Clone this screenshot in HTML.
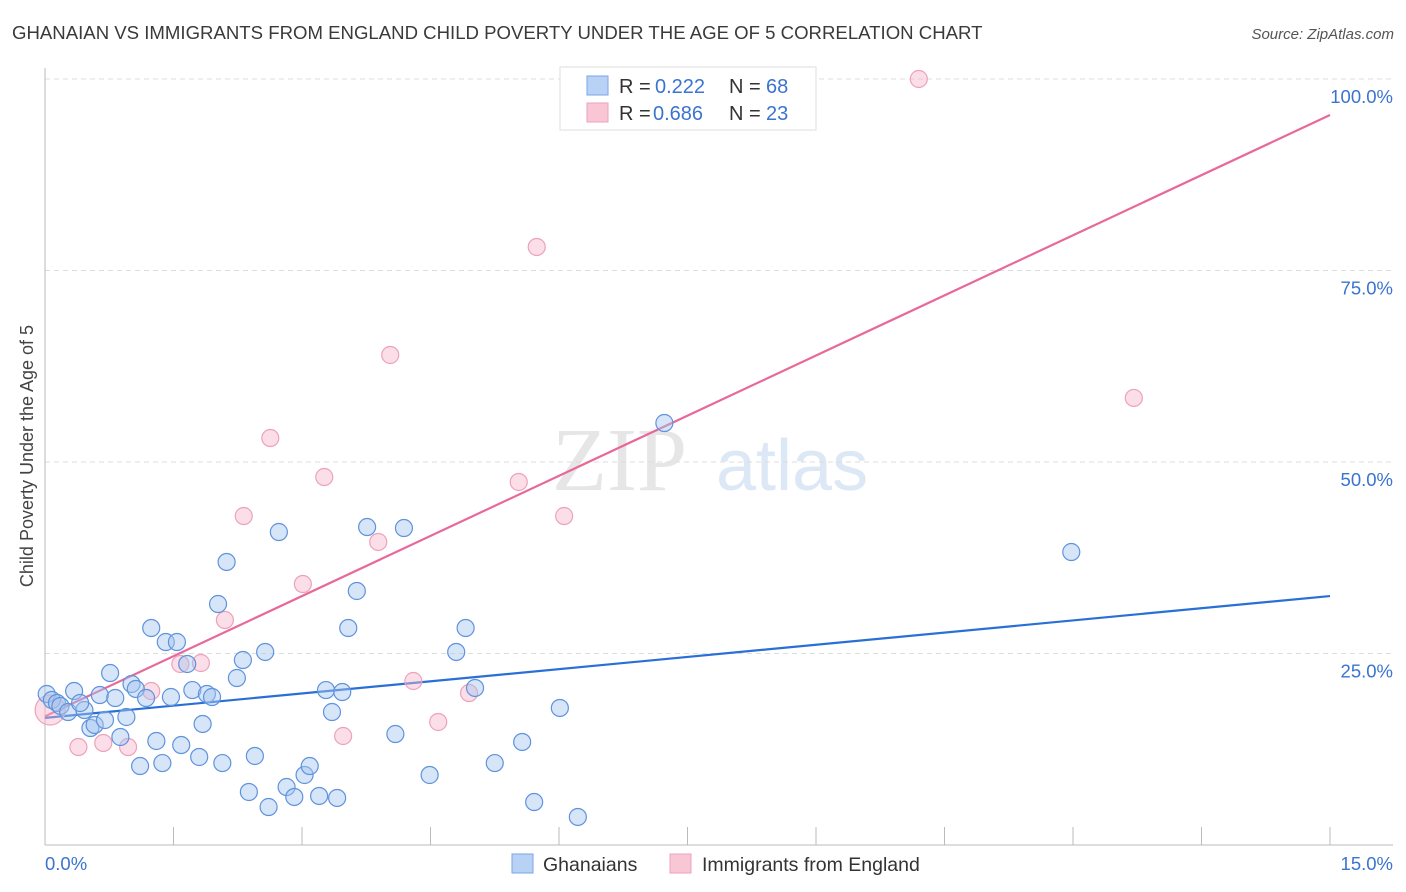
<!DOCTYPE html>
<html><head><meta charset="utf-8"><style>
body{margin:0;background:#fff;font-family:"Liberation Sans",sans-serif;}
svg{display:block}
</style></head><body>
<svg id="chart" width="1406" height="892" xmlns="http://www.w3.org/2000/svg">
<text x="12" y="39" font-size="18.6" fill="#3a3a3a">GHANAIAN VS IMMIGRANTS FROM ENGLAND CHILD POVERTY UNDER THE AGE OF 5 CORRELATION CHART</text>
<text x="1394" y="39" font-size="15" fill="#555" font-style="italic" text-anchor="end">Source: ZipAtlas.com</text>
<g>
<text x="552" y="490" font-size="90" font-family="Liberation Serif,serif" fill="#e6e6e6">ZIP</text>
<text x="716" y="490" font-size="72" fill="#dde8f6">atlas</text>
</g>
<text transform="translate(33,456) rotate(-90)" font-size="18" fill="#444" text-anchor="middle">Child Poverty Under the Age of 5</text>
<g id="grid"></g>
<g id="lines"></g>
<g id="points"></g>
<g font-size="20">
<rect x="560" y="67" width="256" height="63" fill="#fff" stroke="#ddd"/>
<rect x="587" y="76" width="21" height="19" fill="#b8d2f6" stroke="#7aa6e4"/>
<rect x="587" y="103" width="21" height="19" fill="#f9c6d6" stroke="#eda2ba"/>
<text x="619" y="93" fill="#333">R =</text><text x="655" y="93" fill="#3a74d0">0.222</text>
<text x="729" y="93" fill="#333">N =</text><text x="766" y="93" fill="#3a74d0">68</text>
<text x="619" y="120" fill="#333">R =</text><text x="653" y="120" fill="#3a74d0">0.686</text>
<text x="729" y="120" fill="#333">N =</text><text x="766" y="120" fill="#3a74d0">23</text>
</g>
<g>
<rect x="512" y="854" width="21" height="19" fill="#b8d2f6" stroke="#7aa6e4"/>
<text x="543" y="871" font-size="19.5" fill="#333">Ghanaians</text>
<rect x="670" y="854" width="21" height="19" fill="#f9c6d6" stroke="#eda2ba"/>
<text x="702" y="871" font-size="19.5" fill="#333">Immigrants from England</text>
</g>
</svg>
<script>
const yTicks=[25,50,75,100];
const yTickLabels=["25.0%","50.0%","75.0%","100.0%"];
const xEndLabels=["0.0%","15.0%"];
const blueX=[0.02,0.08,0.14,0.18,0.27,0.34,0.46,0.41,0.53,0.58,0.64,0.70,0.76,0.82,0.88,0.95,1.01,1.06,1.11,1.18,1.24,1.30,1.37,1.41,1.47,1.54,1.59,1.66,1.72,1.80,1.84,1.89,1.95,2.02,2.07,2.12,2.24,2.31,2.38,2.45,2.57,2.61,2.73,2.82,2.91,3.03,3.09,3.20,3.28,3.35,3.41,3.47,3.54,3.64,3.76,4.09,4.19,4.49,4.80,4.91,5.02,5.25,5.57,5.71,6.01,6.22,7.23,11.98];
const blueY=[19.71,18.93,18.54,18.15,17.36,20.10,17.62,18.54,15.27,15.67,19.58,16.32,22.45,19.19,14.10,16.71,21.02,20.37,10.31,19.19,28.33,13.58,10.70,26.50,19.32,26.50,13.05,23.63,20.23,11.49,15.80,19.71,19.32,31.46,10.70,36.95,21.80,24.15,6.92,11.62,25.20,4.96,40.86,7.57,6.27,9.14,10.31,6.40,20.23,17.36,6.14,19.97,28.33,33.16,41.51,14.49,41.38,9.14,25.20,28.33,20.50,10.70,13.45,5.61,17.89,3.66,55.09,38.25];
const pinkX=[0.06,0.39,0.68,0.97,1.24,1.58,1.82,2.10,2.32,2.63,3.01,3.26,3.48,3.89,4.03,4.30,4.59,4.95,5.53,5.74,6.06,10.20,12.71];
const pinkY=[17.62,12.79,13.32,12.79,20.10,23.63,23.76,29.37,42.95,53.13,34.07,48.04,14.23,39.56,63.97,21.41,16.06,19.84,47.39,78.07,42.95,100.0,58.36];
const blueLine=[16.6,32.5];
const pinkLine=[16.8,95.3];
const xDomain=[0,15];
const NS="http://www.w3.org/2000/svg";
const X=v=>45+(v-xDomain[0])/(xDomain[1]-xDomain[0])*1285;
const Y=v=>845-v*7.66;
function mk(t,a,p){const e=document.createElementNS(NS,t);for(const k in a)e.setAttribute(k,a[k]);p.appendChild(e);return e;}
const grid=document.getElementById('grid');
yTicks.forEach((t,i)=>{
 const l=mk('line',{x1:45,x2:1393,y1:Y(t),y2:Y(t),stroke:'#ddd','stroke-dasharray':'5,4'},grid);
 
 
 const tx=mk('text',{x:1393,y:Y(t)+24,'font-size':18.5,fill:'#3a74d0','text-anchor':'end'},grid);
 tx.textContent=yTickLabels[i];
 
 
});
const ax=mk('line',{x1:45,x2:45,y1:68,y2:845,stroke:'#bbb'},grid);


const bx=mk('line',{x1:45,x2:1393,y1:845,y2:845,stroke:'#bbb'},grid);


for(let i=1;i<=10;i++){
 const v=i*1.5;
 const t=mk('line',{x1:X(v),x2:X(v),y1:827,y2:845,stroke:'#bbb'},grid);
 
 
}
[[0,'start',45],[1,'end',1393]].forEach(([i,a,x])=>{
 const t=mk('text',{x:x,y:870,'font-size':18.5,fill:'#3a74d0','text-anchor':a},grid);
 t.textContent=xEndLabels[i];
 
 
});
const pts=document.getElementById('points');
pinkX.forEach((x,i)=>{
 const c=mk('circle',{cx:X(x),cy:Y(pinkY[i]),r:i===0?15:8.5,fill:'rgba(246,182,202,0.45)',stroke:'#eda2ba','stroke-width':1.2},pts);
 
 
});
blueX.forEach((x,i)=>{
 const c=mk('circle',{cx:X(x),cy:Y(blueY[i]),r:8.5,fill:'rgba(164,198,240,0.45)',stroke:'#5f93dc','stroke-width':1.2},pts);
 
 
});
const lines=document.getElementById('lines');
const bl=mk('line',{x1:X(0),x2:X(15),y1:Y(blueLine[0]),y2:Y(blueLine[1]),stroke:'#2a6fd6','stroke-width':2.2},lines);


const pl=mk('line',{x1:X(0),x2:X(15),y1:Y(pinkLine[0]),y2:Y(pinkLine[1]),stroke:'#e8689a','stroke-width':2.2},lines);


</script>
</body></html>
